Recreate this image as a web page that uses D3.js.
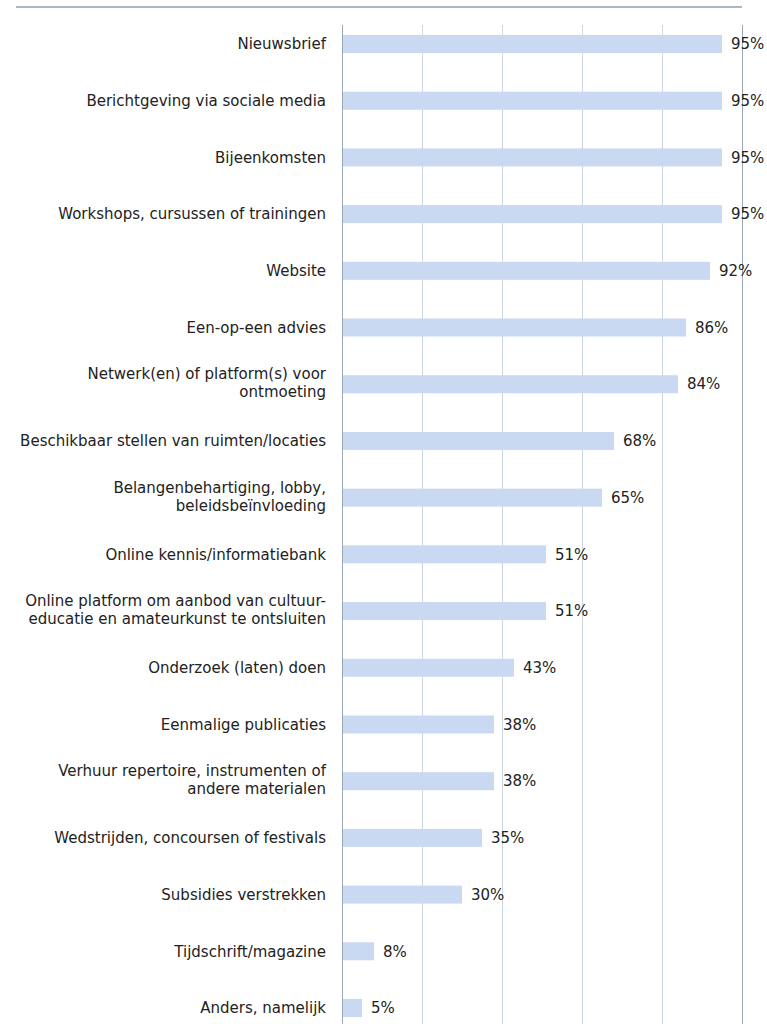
<!DOCTYPE html>
<html>
<head>
<meta charset="utf-8">
<script src="https://cdn.jsdelivr.net/npm/d3@7"></script>
<style>
  body { margin: 0; background: #fff; }
  svg text { font-family: "DejaVu Sans", sans-serif; fill: #222; }
</style>
</head>
<body>
<svg id="chart"></svg>
<script>
// categories (| marks a line break) and their percentages
let categories = [
  'Nieuwsbrief',
  'Berichtgeving via sociale media',
  'Bijeenkomsten',
  'Workshops, cursussen of trainingen',
  'Website',
  'Een-op-een advies',
  'Netwerk(en) of platform(s) voor|ontmoeting',
  'Beschikbaar stellen van ruimten/locaties',
  'Belangenbehartiging, lobby,|beleidsbeïnvloeding',
  'Online kennis/informatiebank',
  'Online platform om aanbod van cultuur-|educatie en amateurkunst te ontsluiten',
  'Onderzoek (laten) doen',
  'Eenmalige publicaties',
  'Verhuur repertoire, instrumenten of|andere materialen',
  'Wedstrijden, concoursen of festivals',
  'Subsidies verstrekken',
  'Tijdschrift/magazine',
  'Anders, namelijk',
]
let values = [95, 95, 95, 95, 92, 86, 84, 68, 65, 51, 51, 43, 38, 38, 35, 30, 8, 5]
let gridTicks = [0, 20, 40, 60, 80, 100]

let outerWidth = 767
let outerHeight = 1024
let barHeight = 18

let svg = d3.select('svg#chart')
  .attr('width', outerWidth)
  .attr('height', outerHeight)

let xScale = d3.scaleLinear().domain([0, 100]).range([342, 742])
let yScale = d3.scalePoint().domain(categories).range([44, 1008])

// top rule
svg.append('line')
  .attr('x1', 16).attr('x2', 742)
  .attr('y1', 7).attr('y2', 7)
  .attr('stroke', '#a9b7c6')
  .attr('stroke-width', 2)

// vertical gridlines
svg.selectAll('line.grid')
  .data(gridTicks)
  .enter()
  .append('line')
  .attr('class', 'grid')
  .attr('x1', d => xScale(d) + 0.5)
  .attr('x2', d => xScale(d) + 0.5)
  .attr('y1', 25)
  .attr('y2', outerHeight)
  .attr('stroke', d => (d == 0 || d == 100) ? '#9aa9ba' : '#cbd6e2')
  .attr('stroke-width', 1)

// bars
svg.selectAll('rect.bar')
  .data(categories)
  .enter()
  .append('rect')
  .attr('class', 'bar')
  .attr('x', xScale(0) + 1)
  .attr('y', d => yScale(d) - barHeight / 2)
  .attr('width', (d, i) => xScale(values[i]) - xScale(0) - 1)
  .attr('height', barHeight)
  .attr('fill', '#c9d9f1')

// value labels
svg.selectAll('text.value')
  .data(categories)
  .enter()
  .append('text')
  .attr('class', 'value')
  .attr('x', (d, i) => xScale(values[i]) + 9)
  .attr('y', d => yScale(d))
  .attr('dy', '0.35em')
  .style('font-size', '15px')
  .text((d, i) => values[i] + '%')

// category labels, may be two lines
let labels = svg.selectAll('text.cat')
  .data(categories)
  .enter()
  .append('text')
  .attr('class', 'cat')
  .attr('text-anchor', 'end')
  .attr('x', 326)
  .attr('y', d => yScale(d))
  .style('font-size', '15px')

labels.each(function (d) {
  let lines = d.split('|')
  let offset = lines.length == 1 ? 0 : -10
  lines.forEach((line, j) => {
    d3.select(this).append('tspan')
      .attr('x', 326)
      .attr('y', yScale(d) + offset + j * 18)
      .attr('dy', '0.35em')
      .text(line)
  })
})
</script>
</body>
</html>
